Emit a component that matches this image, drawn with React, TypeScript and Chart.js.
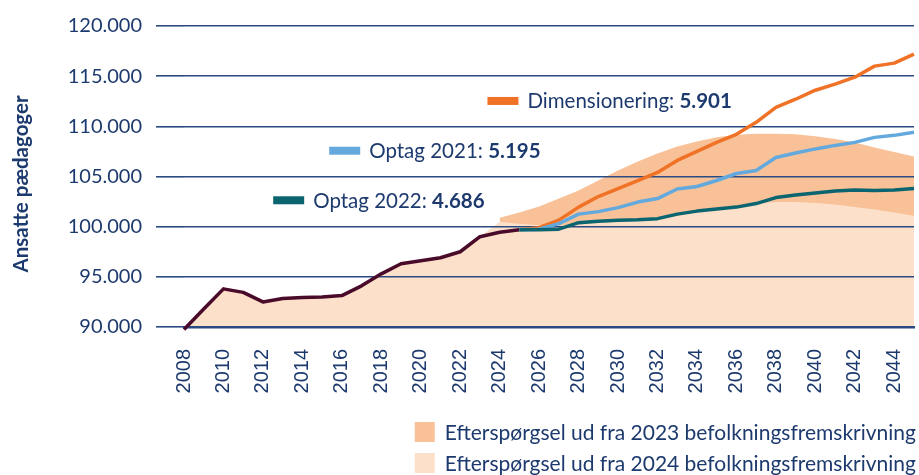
import React, { useEffect, useRef } from 'react';
import { Chart, registerables } from 'chart.js';

Chart.register(...registerables);

// ---------- data ----------
const years = [
  2008, 2009, 2010, 2011, 2012, 2013, 2014, 2015, 2016, 2017, 2018, 2019, 2020,
  2021, 2022, 2023, 2024, 2025, 2026, 2027, 2028, 2029, 2030, 2031, 2032, 2033,
  2034, 2035, 2036, 2037, 2038, 2039, 2040, 2041, 2042, 2043, 2044, 2045,
];

// 2008-2025
const historical = [
  89750, 91800, 93800, 93450, 92500, 92850, 92930, 93000, 93130, 94100, 95300,
  96300, 96600, 96900, 97500, 99000, 99450, 99700,
];

// 2025-2045
const dimensionering = [
  99700, 99900, 100650, 101950, 103000, 103800, 104600, 105400, 106600, 107500,
  108400, 109200, 110400, 111900, 112700, 113600, 114200, 114900, 116000,
  116300, 117200,
];
const optag2021 = [
  99700, 99750, 100300, 101250, 101500, 101900, 102450, 102800, 103750, 104000,
  104600, 105300, 105600, 106900, 107350, 107750, 108100, 108400, 108900,
  109100, 109400,
];
const optag2022 = [
  99700, 99700, 99750, 100400, 100550, 100650, 100700, 100800, 101250, 101550,
  101750, 101950, 102300, 102900, 103150, 103350, 103550, 103650, 103600,
  103650, 103800,
];

// 2024-2045
const demand2023 = [
  100900, 101400, 102000, 102800, 103600, 104600, 105600, 106500, 107300,
  108000, 108500, 108900, 109150, 109250, 109250, 109200, 109000, 108750,
  108400, 107900, 107450, 107000,
];
const demand2024 = [
  100500, 100300, 100150, 100100, 100200, 100400, 100500, 100600, 100700,
  101100, 101450, 101700, 101900, 102300, 102450, 102450, 102350, 102200,
  101950, 101700, 101400, 101100,
];

const yTicks = [90000, 95000, 100000, 105000, 110000, 115000, 120000];
const xTicks = [
  2008, 2010, 2012, 2014, 2016, 2018, 2020, 2022, 2024, 2026, 2028, 2030, 2032,
  2034, 2036, 2038, 2040, 2042, 2044,
];

const seriesLabels = [
  { name: 'Dimensionering: ', value: '5.901', year: 2023.38, level: 112530, key: 'orange' },
  { name: 'Optag 2021: ', value: '5.195', year: 2015.36, level: 107570, key: 'blue' },
  { name: 'Optag 2022: ', value: '4.686', year: 2012.52, level: 102630, key: 'teal' },
];
const legendTexts = [
  'Efterspørgsel ud fra 2023 befolkningsfremskrivning',
  'Efterspørgsel ud fra 2024 befolkningsfremskrivning',
];
const yTitle = 'Ansatte pædagoger';

// ---------- styles ----------
const NAVY = '#1d3a6e';
const GRID = '#2a4a82';
const COLORS: Record<string, string> = {
  hist: '#4a0b2a',
  orange: '#f07226',
  blue: '#63a9de',
  teal: '#0b6571',
  dark: '#f9c197',
  light: '#fde0ca',
};
const FONT = 'Lato';

// ---------- helpers ----------
const startYearIndex = (y: number) => years.indexOf(y);
function series(values: number[], startYear: number) {
  const s = startYearIndex(startYear);
  return years.map((yr, i) => ({
    x: yr,
    y: i >= s && i < s + values.length ? values[i - s] : null,
  }));
}
const lightArea = [...historical.slice(0, startYearIndex(2024)), ...demand2024];

const fmt = (v: number) => String(v).replace(/\B(?=(\d{3})+(?!\d))/g, '.');

const overlayPlugin = {
  id: 'overlay',
  afterDatasetsDraw(chart: any) {
    const { ctx } = chart;
    const x = chart.scales.x;
    const y = chart.scales.y;
    ctx.save();
    for (const lab of seriesLabels) {
      const px = x.getPixelForValue(lab.year);
      const py = y.getPixelForValue(lab.level);
      ctx.fillStyle = COLORS[lab.key];
      ctx.fillRect(px, py - 4, 31, 8);
      ctx.fillStyle = NAVY;
      ctx.textAlign = 'left';
      ctx.textBaseline = 'alphabetic';
      ctx.font = `20.5px ${FONT}`;
      const tx = px + 31 + 9;
      const base = py + 7.4;
      ctx.fillText(lab.name, tx, base);
      const w = ctx.measureText(lab.name).width;
      ctx.font = `bold 20.5px ${FONT}`;
      ctx.fillText(lab.value, tx + w, base);
    }
    ctx.restore();
  },
  afterDraw(chart: any) {
    const { ctx } = chart;
    ctx.save();
    // legend (bottom right)
    const rows = [432, 463];
    const boxColors = [COLORS.dark, COLORS.light];
    ctx.font = `21px ${FONT}`;
    ctx.textBaseline = 'alphabetic';
    legendTexts.forEach((t, i) => {
      const w = ctx.measureText(t).width;
      const right = 916;
      const tx = right - w;
      ctx.fillStyle = boxColors[i];
      ctx.fillRect(tx - 10 - 20, rows[i] - 10, 20, 20);
      ctx.fillStyle = NAVY;
      ctx.textAlign = 'left';
      ctx.fillText(t, tx, rows[i] + 7.5);
    });
    // y title
    ctx.translate(27.5, 184);
    ctx.rotate(-Math.PI / 2);
    ctx.font = `bold 20.5px ${FONT}`;
    ctx.fillStyle = NAVY;
    ctx.textAlign = 'center';
    ctx.textBaseline = 'alphabetic';
    ctx.fillText(yTitle, 0, 0);
    ctx.restore();
  },
};

export default function App() {
  const ref = useRef<HTMLCanvasElement>(null);
  useEffect(() => {
    const lineDs = (label: string, data: any[], color: string) => ({
      label,
      data,
      borderColor: color,
      backgroundColor: color,
      borderWidth: 3.5,
      pointRadius: 0,
      fill: false,
      tension: 0,
      borderJoinStyle: 'round' as const,
      clip: 4,
    });
    const chart = new Chart(ref.current!, {
      type: 'line',
      data: {
        datasets: [
          lineDs('Optag 2022', series(optag2022, 2025), COLORS.teal),
          lineDs('Optag 2021', series(optag2021, 2025), COLORS.blue),
          lineDs('Dimensionering', series(dimensionering, 2025), COLORS.orange),
          lineDs('Historik', series(historical, 2008), COLORS.hist),
          {
            label: legendTexts[1],
            data: series(lightArea, 2008),
            borderWidth: 0,
            borderColor: 'rgba(0,0,0,0)',
            backgroundColor: COLORS.light,
            pointRadius: 0,
            fill: 'start',
            tension: 0,
          },
          {
            label: legendTexts[0],
            data: series(demand2023, 2024),
            borderWidth: 0,
            borderColor: 'rgba(0,0,0,0)',
            backgroundColor: COLORS.dark,
            pointRadius: 0,
            fill: 'start',
            tension: 0,
          },
        ],
      },
      options: {
        responsive: false,
        animation: false,
        devicePixelRatio: 1,
        layout: { padding: { left: 0, right: 5, top: 21, bottom: 0 } },
        plugins: {
          legend: { display: false },
          tooltip: { enabled: false },
          filler: { drawTime: 'beforeDraw' },
        } as any,
        scales: {
          x: {
            type: 'linear',
            min: 2008,
            max: 2045,
            afterFit: (s: any) => {
              s.height = 148;
              s.paddingRight = 0;
              s.paddingLeft = 0;
            },
            afterBuildTicks: (s: any) => {
              s.ticks = xTicks.map((v) => ({ value: v }));
            },
            ticks: {
              autoSkip: false,
              minRotation: 90,
              maxRotation: 90,
              padding: 22,
              color: NAVY,
              font: { family: 'Liberation Sans', size: 20 },
              callback: (v: any) => String(v),
            },
            grid: { display: false, drawTicks: false },
            border: { display: true, color: GRID, width: 2.5 },
          },
          y: {
            min: 90000,
            max: 120000,
            afterFit: (s: any) => {
              s.width = 184;
            },
            afterBuildTicks: (s: any) => {
              s.ticks = yTicks.map((v) => ({ value: v }));
            },
            ticks: {
              padding: 14,
              color: NAVY,
              font: { family: FONT, size: 20 },
              callback: (v: any) => fmt(v),
            },
            grid: { color: GRID, lineWidth: 1.6, tickLength: 28, drawTicks: true },
            border: { display: false },
          },
        },
      },
      plugins: [overlayPlugin],
    });
    return () => chart.destroy();
  }, []);
  return (
    <div style={{ position: 'absolute', left: 0, top: 0, width: 919, height: 475 }}>
      <canvas ref={ref} width={919} height={475} />
    </div>
  );
}
